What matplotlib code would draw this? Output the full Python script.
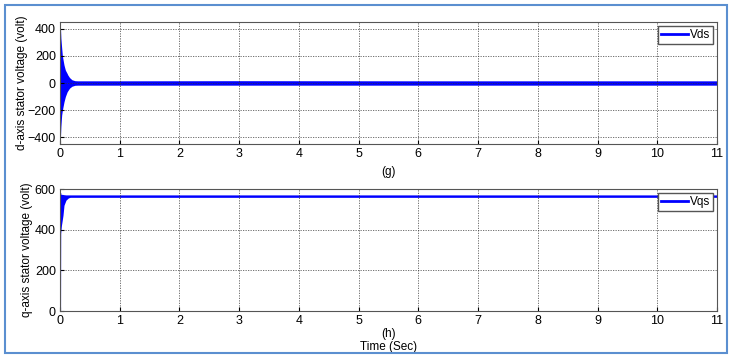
import numpy as np
import matplotlib.pyplot as plt
from matplotlib.patches import Rectangle

plt.rcParams['font.family'] = ['Liberation Sans', 'DejaVu Sans']

# Vds envelope (band of the fast oscillation)
t_ds = [0.0, 0.005, 0.015, 0.028, 0.04, 0.067, 0.09, 0.12, 0.13, 0.16, 0.2, 0.25, 0.3, 1.0, 3.0, 6.0, 11.0]
vds_hi = [450, 440, 330, 260, 200, 133, 95, 70, 60, 40, 24, 17, 16, 16, 17, 16, 16]
vds_lo = [-450, -430, -320, -237, -200, -139, -100, -65, -58, -38, -24, -17, -16, -16, -16, -16, -16]

# Vqs envelope
t_qs = [0.0, 0.004, 0.008, 0.02, 0.05, 0.067, 0.1, 0.14, 0.17, 0.2, 1.0, 11.0]
vqs_hi = [0, 575, 575, 574, 573, 572, 571, 571, 571, 571, 571, 571]
vqs_lo = [0, 360, 380, 413, 470, 520, 545, 556, 559, 559, 559, 559]

xticks = list(range(0, 12))

fig = plt.figure(figsize=(7.36, 3.58), dpi=100)
fig.patches.append(Rectangle((5 / 736, 5 / 358), 722 / 736, 348 / 358, transform=fig.transFigure,
                             fill=False, edgecolor='#5b8fd0', linewidth=1.5))

ax1 = fig.add_axes([60 / 736, 1 - 144 / 358, 657 / 736, 122 / 358])
ax2 = fig.add_axes([60 / 736, 1 - 311 / 358, 657 / 736, 122 / 358])

for ax in (ax1, ax2):
    ax.set_xlim(0, 11)
    ax.set_xticks(xticks)
    ax.tick_params(direction='in', length=3, labelsize=9, colors='black', pad=3)
    for s in ax.spines.values():
        s.set_color('#555555')
        s.set_linewidth(0.8)
    ax.grid(True, color='#333333', linestyle=(0, (1.5, 1.5)), linewidth=0.6, alpha=0.8)

leg_kw = dict(loc='upper right', fontsize=8.5, frameon=True, fancybox=False, edgecolor='#555555',
              handlelength=2.3, borderpad=0.25, handletextpad=0.15, borderaxespad=0.35, framealpha=1)

ax1.fill_between(t_ds, vds_lo, vds_hi, color='blue', linewidth=0)
ax1.plot([], [], color='blue', linewidth=2, label='Vds')
ax1.set_ylim(-450, 450)
ax1.set_yticks([-400, -200, 0, 200, 400])
ax1.set_ylabel('d-axis stator voltage (volt)', fontsize=8.5, labelpad=0)
ax1.set_xlabel('(g)', fontsize=8.5, labelpad=4)
ax1.legend(**leg_kw)

ax2.fill_between(t_qs, vqs_lo, vqs_hi, color='blue', linewidth=0)
ax2.plot([0, 0.004], [0, 575], color='blue', linewidth=1.5)
ax2.plot([], [], color='blue', linewidth=2, label='Vqs')
ax2.set_ylim(0, 600)
ax2.set_yticks([0, 200, 400, 600])
ax2.set_ylabel('q-axis stator voltage (volt)', fontsize=8.5, labelpad=1)
ax2.set_xlabel('(h)\nTime (Sec)', fontsize=8.5, labelpad=0.5, linespacing=1.15)
ax2.legend(**leg_kw)

fig.savefig('out.png', dpi=100)
